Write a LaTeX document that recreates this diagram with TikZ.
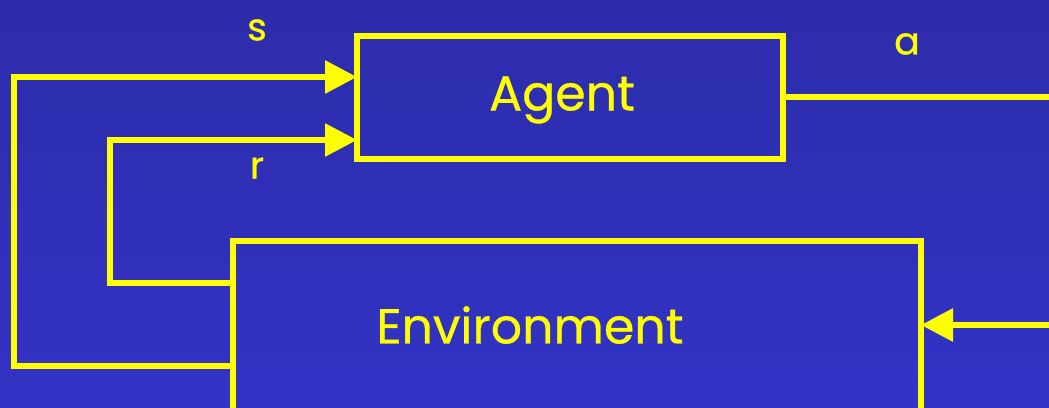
\documentclass[tikz,border=0pt]{standalone}
\usepackage{fontspec}
\setmainfont{Poppins}[FakeBold=0.6]
\usetikzlibrary{arrows.meta}
\definecolor{bgtop}{RGB}{44,44,170}
\definecolor{bgbot}{RGB}{51,51,198}
\definecolor{yel}{RGB}{255,255,0}
\tikzset{
  link/.style={draw=yel, line width=6pt, line join=miter},
  arr/.style={link, -{Triangle[length=32pt,width=32pt]}},
  lbl/.style={text=yel, font=\fontsize{38}{44}\selectfont},
  boxtext/.style={text=yel, font=\fontsize{49}{56}\selectfont}
}
\begin{document}
\begin{tikzpicture}[x=1pt,y=-1pt]
\fill[top color=bgtop, bottom color=bgbot] (0,0) rectangle (1049,407);
\useasboundingbox (0,0) rectangle (1049,407);
% Agent box
\draw[link] (357,36) rectangle (783,159);
\node[boxtext] (agent) at (562,100) {Agent};
% Environment box
\draw[link] (233,241) rectangle (921,415);
\node[boxtext] (env) at (530,325) {Environment};
\coordinate (ain1) at (357,77);
\coordinate (ain2) at (357,140);
\coordinate (aout) at (783,97);
\coordinate (eout1) at (233,366);
\coordinate (eout2) at (233,283);
\coordinate (ein) at (921,325);
\coordinate (rightA) at (1052,97);
\coordinate (rightE) at (1052,325);
% s
\draw[arr] (eout1) -- (14,366) -- (14,77) -- (ain1);
% r
\draw[arr] (eout2) -- (110,283) -- (110,140) -- (ain2);
% a
\draw[link] (aout) -- (rightA);
\draw[arr] (rightE) -- (ein);
\node[lbl] (s) at (257,30) {s};
\node[lbl] (r) at (257,168) {r};
\node[lbl] (a) at (907,44) {a};
\end{tikzpicture}
\end{document}
